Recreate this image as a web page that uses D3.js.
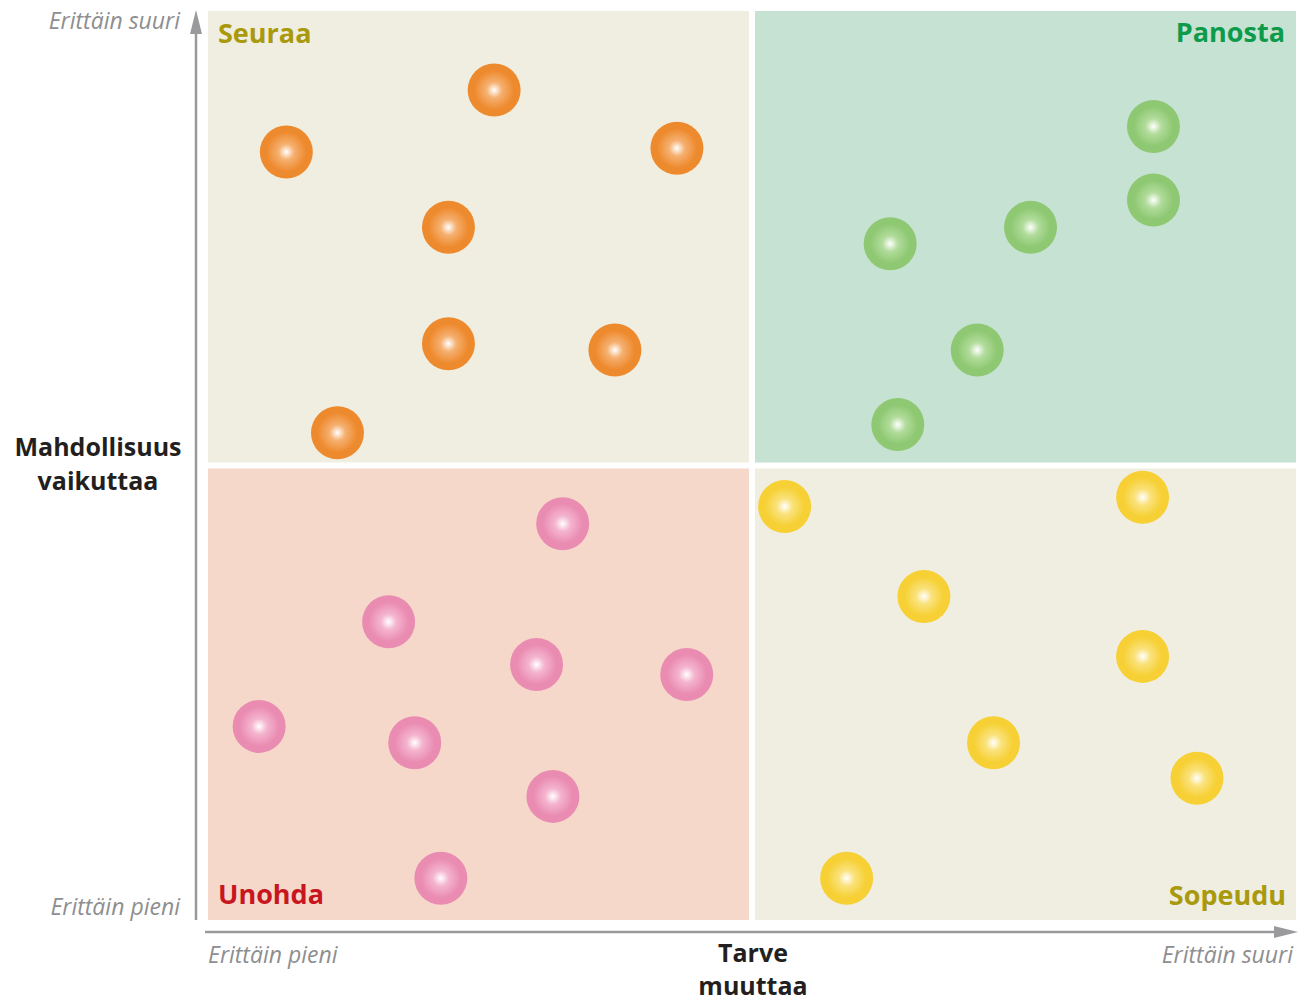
<!DOCTYPE html>
<html>
<head>
<meta charset="utf-8">
<script src="https://cdn.jsdelivr.net/npm/d3@7"></script>
<style>
  body { margin: 0; background: #fff; }
  text { font-family: "Open Sans", "Noto Sans", sans-serif; }
</style>
</head>
<body>
<div id="chart"></div>
<script>
// data (0-100 on both axes)
var orangeX = [26.3, 7.2, 43.1, 22.1, 22.1, 37.4, 11.9];
var orangeY = [91.3, 84.5, 84.9, 76.2, 63.4, 62.7, 53.6];
var greenX  = [86.9, 86.9, 62.7, 75.6, 70.7, 63.4];
var greenY  = [87.3, 79.2, 74.4, 76.2, 62.7, 54.5];
var pinkX   = [32.6, 16.6, 30.2, 44.0, 4.7, 19.0, 31.7, 21.4];
var pinkY   = [43.6, 32.8, 28.1, 27.0, 21.3, 19.5, 13.6, 4.6];
var yellowX = [53.0, 85.9, 65.8, 85.9, 72.2, 90.9, 58.7];
var yellowY = [45.5, 46.5, 35.6, 29.0, 19.5, 15.6, 4.6];

var quadrantNames = ["Seuraa", "Panosta", "Unohda", "Sopeudu"];
var xTitle = ["Tarve", "muuttaa"];
var yTitle = ["Mahdollisuus", "vaikuttaa"];
var lowLabel = "Erittäin pieni", highLabel = "Erittäin suuri";

var width = 1301, height = 1002;
var svg = d3.select("#chart").append("svg")
    .attr("width", width)
    .attr("height", height);

var x = d3.scaleLinear().domain([0, 100]).range([208, 1296]);
var y = d3.scaleLinear().domain([0, 100]).range([920, 11]);
var gap = 3;

// gradients for bubbles
var series = [
  {name: "orange", xs: orangeX, ys: orangeY, color: "#ee8a2e", mid: "#f5b070"},
  {name: "green",  xs: greenX,  ys: greenY,  color: "#8ec872", mid: "#b2dc9c"},
  {name: "pink",   xs: pinkX,   ys: pinkY,   color: "#ea8cb2", mid: "#f4b4ce"},
  {name: "yellow", xs: yellowX, ys: yellowY, color: "#f6d034", mid: "#fae27c"}
];
var defs = svg.append("defs");
series.forEach(function(s) {
  var g = defs.append("radialGradient").attr("id", "grad-" + s.name)
    .attr("cx", "50%").attr("cy", "50%").attr("r", "50%");
  g.append("stop").attr("offset", "0%").attr("stop-color", "#ffffff");
  g.append("stop").attr("offset", "30%").attr("stop-color", s.mid);
  g.append("stop").attr("offset", "75%").attr("stop-color", s.color);
  g.append("stop").attr("offset", "100%").attr("stop-color", s.color);
});

// quadrants
var quads = [
  {x0: 0, x1: 50, y0: 50, y1: 100, fill: "#f0eee0"},
  {x0: 50, x1: 100, y0: 50, y1: 100, fill: "#c6e2d2"},
  {x0: 0, x1: 50, y0: 0, y1: 50, fill: "#f5d8ca"},
  {x0: 50, x1: 100, y0: 0, y1: 50, fill: "#f0eee0"}
];
svg.selectAll("rect.quad").data(quads).enter().append("rect")
  .attr("class", "quad")
  .attr("x", function(d) { return x(d.x0) + (d.x0 > 0 ? gap : 0); })
  .attr("y", function(d) { return y(d.y1) + (d.y1 < 100 ? gap : 0); })
  .attr("width", function(d) { return x(d.x1) - x(d.x0) - gap; })
  .attr("height", function(d) { return y(d.y0) - y(d.y1) - gap; })
  .attr("fill", function(d) { return d.fill; });

// quadrant labels
var qLabels = [
  {t: quadrantNames[0], px: x(0) + 10, py: y(100) + 32, anchor: "start", color: "#a9990d"},
  {t: quadrantNames[1], px: x(100) - 11, py: y(100) + 31, anchor: "end", color: "#0e9a4b"},
  {t: quadrantNames[2], px: x(0) + 10, py: y(0) - 16, anchor: "start", color: "#c8161f"},
  {t: quadrantNames[3], px: x(100) - 10, py: y(0) - 15, anchor: "end", color: "#a9990d"}
];
svg.selectAll("text.qlabel").data(qLabels).enter().append("text")
  .attr("class", "qlabel")
  .attr("x", function(d) { return d.px; })
  .attr("y", function(d) { return d.py; })
  .attr("text-anchor", function(d) { return d.anchor; })
  .attr("fill", function(d) { return d.color; })
  .attr("font-size", 27)
  .attr("font-weight", "bold")
  .text(function(d) { return d.t; });

// bubbles
series.forEach(function(s) {
  svg.selectAll("circle." + s.name).data(s.xs).enter().append("circle")
    .attr("class", s.name)
    .attr("cx", function(d) { return x(d); })
    .attr("cy", function(d, i) { return y(s.ys[i]); })
    .attr("r", 26.5)
    .attr("fill", "url(#grad-" + s.name + ")");
});

// axes with arrows
var axisColor = "#9a9a9c";
svg.append("line")
  .attr("x1", 196).attr("y1", 920).attr("x2", 196).attr("y2", 30)
  .attr("stroke", axisColor).attr("stroke-width", 2.5);
svg.append("path")
  .attr("d", "M196,10 L190,34 L202,34 Z")
  .attr("fill", axisColor);
svg.append("line")
  .attr("x1", 205).attr("y1", 932).attr("x2", 1280).attr("y2", 932)
  .attr("stroke", axisColor).attr("stroke-width", 2.5);
svg.append("path")
  .attr("d", "M1298,932 L1274,926 L1274,938 Z")
  .attr("fill", axisColor);

// end labels
var endLabels = [
  {t: highLabel, px: 180, py: 29, anchor: "end"},
  {t: lowLabel, px: 180, py: 915, anchor: "end"},
  {t: lowLabel, px: 208, py: 963, anchor: "start"},
  {t: highLabel, px: 1293, py: 963, anchor: "end"}
];
svg.selectAll("text.end").data(endLabels).enter().append("text")
  .attr("class", "end")
  .attr("x", function(d) { return d.px; })
  .attr("y", function(d) { return d.py; })
  .attr("text-anchor", function(d) { return d.anchor; })
  .attr("fill", "#8e8e90")
  .attr("font-size", 23)
  .attr("font-style", "italic")
  .text(function(d) { return d.t; });

// axis titles
svg.selectAll("text.ytitle").data(yTitle).enter().append("text")
  .attr("class", "ytitle")
  .attr("x", 98)
  .attr("y", function(d, i) { return 456 + i * 34; })
  .attr("text-anchor", "middle")
  .attr("fill", "#231f20")
  .attr("font-size", 25)
  .attr("font-weight", "bold")
  .text(function(d) { return d; });
svg.selectAll("text.xtitle").data(xTitle).enter().append("text")
  .attr("class", "xtitle")
  .attr("x", 753)
  .attr("y", function(d, i) { return 962 + i * 33; })
  .attr("text-anchor", "middle")
  .attr("fill", "#231f20")
  .attr("font-size", 25)
  .attr("font-weight", "bold")
  .text(function(d) { return d; });
</script>
</body>
</html>
